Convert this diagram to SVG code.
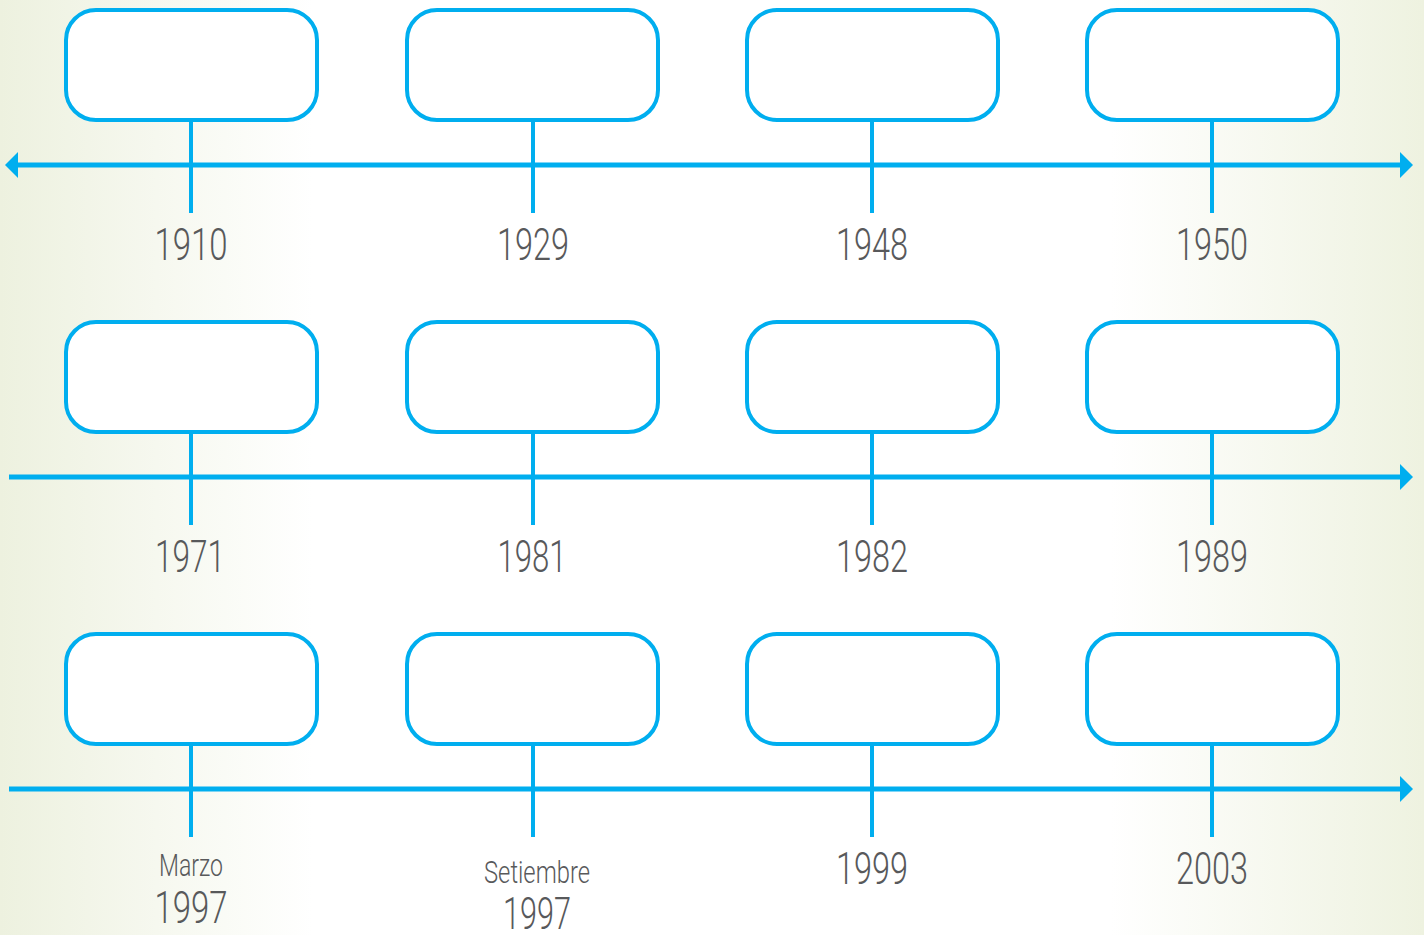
<svg xmlns="http://www.w3.org/2000/svg" width="1424" height="935" viewBox="0 0 1424 935">
<defs>
<linearGradient id="bg" x1="0" y1="0" x2="1" y2="0">
<stop offset="0" stop-color="#edf1df"/>
<stop offset="0.22" stop-color="#ffffff"/>
<stop offset="0.78" stop-color="#ffffff"/>
<stop offset="1" stop-color="#eef2e0"/>
</linearGradient>
<marker id="ah" viewBox="0 0 13 26" refX="1" refY="13" markerWidth="13" markerHeight="26" markerUnits="userSpaceOnUse" orient="auto-start-reverse">
<path d="M0,0 L13,13 L0,26 Z" fill="#00aeef"/>
</marker>
</defs>
<style>
.box{fill:#ffffff;stroke:#00aeef;stroke-width:4}
.stem{stroke:#00aeef;stroke-width:4;fill:none}
.axis{stroke:#00aeef;stroke-width:5;fill:none}
.yr{font-family:Roboto,"Liberation Sans",Arial,sans-serif;font-weight:300;font-size:44px;fill:#58595b;text-anchor:middle}
.mo{font-family:Roboto,"Liberation Sans",Arial,sans-serif;font-weight:300;font-size:31px;fill:#58595b;text-anchor:middle}
</style>
<rect width="1424" height="935" fill="url(#bg)"/>
<g id="connectors">
<line class="axis" x1="17" y1="165" x2="1401" y2="165" marker-start="url(#ah)" marker-end="url(#ah)"/>
<line class="axis" x1="9" y1="477" x2="1401" y2="477" marker-end="url(#ah)"/>
<line class="axis" x1="9" y1="789" x2="1401" y2="789" marker-end="url(#ah)"/>
<line class="stem" x1="191" y1="121" x2="191" y2="213"/>
<line class="stem" x1="533" y1="121" x2="533" y2="213"/>
<line class="stem" x1="872" y1="121" x2="872" y2="213"/>
<line class="stem" x1="1212" y1="121" x2="1212" y2="213"/>
<line class="stem" x1="191" y1="433" x2="191" y2="525"/>
<line class="stem" x1="533" y1="433" x2="533" y2="525"/>
<line class="stem" x1="872" y1="433" x2="872" y2="525"/>
<line class="stem" x1="1212" y1="433" x2="1212" y2="525"/>
<line class="stem" x1="191" y1="745" x2="191" y2="837"/>
<line class="stem" x1="533" y1="745" x2="533" y2="837"/>
<line class="stem" x1="872" y1="745" x2="872" y2="837"/>
<line class="stem" x1="1212" y1="745" x2="1212" y2="837"/>
</g>
<g id="n1910"><rect class="box" x="66" y="10" width="251" height="110" rx="30"/><text class="yr" x="191" y="260" textLength="73" lengthAdjust="spacingAndGlyphs">1910</text></g>
<g id="n1929"><rect class="box" x="407" y="10" width="251" height="110" rx="30"/><text class="yr" x="533" y="260" textLength="72" lengthAdjust="spacingAndGlyphs">1929</text></g>
<g id="n1948"><rect class="box" x="747" y="10" width="251" height="110" rx="30"/><text class="yr" x="872" y="260" textLength="72" lengthAdjust="spacingAndGlyphs">1948</text></g>
<g id="n1950"><rect class="box" x="1087" y="10" width="251" height="110" rx="30"/><text class="yr" x="1212" y="260" textLength="72" lengthAdjust="spacingAndGlyphs">1950</text></g>
<g id="n1971"><rect class="box" x="66" y="322" width="251" height="110" rx="30"/><text class="yr" x="190" y="572" textLength="70" lengthAdjust="spacingAndGlyphs">1971</text></g>
<g id="n1981"><rect class="box" x="407" y="322" width="251" height="110" rx="30"/><text class="yr" x="532" y="572" textLength="69" lengthAdjust="spacingAndGlyphs">1981</text></g>
<g id="n1982"><rect class="box" x="747" y="322" width="251" height="110" rx="30"/><text class="yr" x="872" y="572" textLength="72" lengthAdjust="spacingAndGlyphs">1982</text></g>
<g id="n1989"><rect class="box" x="1087" y="322" width="251" height="110" rx="30"/><text class="yr" x="1212" y="572" textLength="72" lengthAdjust="spacingAndGlyphs">1989</text></g>
<g id="nMarzo1997"><rect class="box" x="66" y="634" width="251" height="110" rx="30"/><text class="mo" x="191" y="876" textLength="64" lengthAdjust="spacingAndGlyphs">Marzo</text><text class="yr" x="191" y="923" textLength="73" lengthAdjust="spacingAndGlyphs">1997</text></g>
<g id="nSetiembre1997"><rect class="box" x="407" y="634" width="251" height="110" rx="30"/><text class="mo" x="537" y="883" textLength="106" lengthAdjust="spacingAndGlyphs">Setiembre</text><text class="yr" x="537" y="929" textLength="68" lengthAdjust="spacingAndGlyphs">1997</text></g>
<g id="n1999"><rect class="box" x="747" y="634" width="251" height="110" rx="30"/><text class="yr" x="872" y="884" textLength="72" lengthAdjust="spacingAndGlyphs">1999</text></g>
<g id="n2003"><rect class="box" x="1087" y="634" width="251" height="110" rx="30"/><text class="yr" x="1212" y="884" textLength="72" lengthAdjust="spacingAndGlyphs">2003</text></g>
</svg>
